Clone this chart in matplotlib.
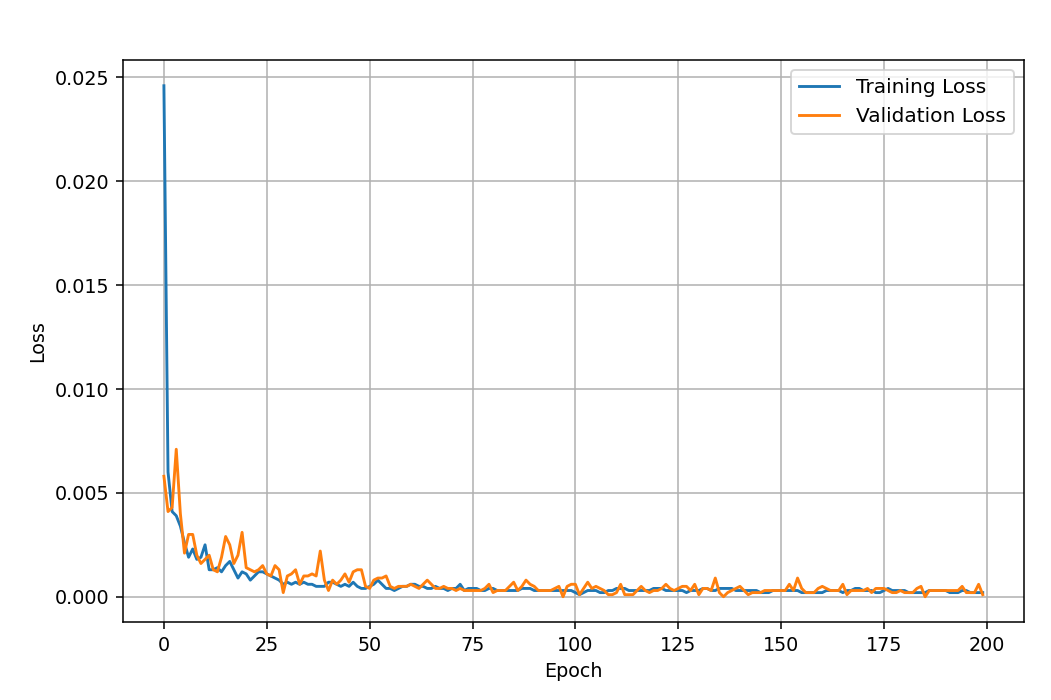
import numpy as np
import matplotlib
matplotlib.use("Agg")
import matplotlib.pyplot as plt

# loss values per epoch
train_loss = [
    0.0246, 0.0060, 0.0041, 0.0039, 0.0034, 0.0026, 0.0019, 0.0023, 0.0018, 0.0019,
    0.0025, 0.0013, 0.0013, 0.0014, 0.0012, 0.0015, 0.0017, 0.0013, 0.0009, 0.0012,
    0.0011, 0.0008, 0.0010, 0.0012, 0.0012, 0.0011, 0.0010, 0.0009, 0.0008, 0.0006,
    0.0007, 0.0006, 0.0007, 0.0006, 0.0007, 0.0006, 0.0006, 0.0005, 0.0005, 0.0005,
    0.0007, 0.0007, 0.0006, 0.0005, 0.0006, 0.0005, 0.0007, 0.0005, 0.0004, 0.0004,
    0.0005, 0.0006, 0.0008, 0.0006, 0.0004, 0.0004, 0.0003, 0.0004, 0.0005, 0.0005,
    0.0006, 0.0006, 0.0005, 0.0005, 0.0004, 0.0004, 0.0005, 0.0004, 0.0004, 0.0003,
    0.0004, 0.0004, 0.0006, 0.0003, 0.0004, 0.0004, 0.0004, 0.0003, 0.0003, 0.0004,
    0.0004, 0.0003, 0.0003, 0.0003, 0.0003, 0.0003, 0.0003, 0.0004, 0.0004, 0.0004,
    0.0003, 0.0003, 0.0003, 0.0003, 0.0003, 0.0003, 0.0003, 0.0003, 0.0003, 0.0003,
    0.0002, 0.0001, 0.0002, 0.0003, 0.0003, 0.0003, 0.0002, 0.0002, 0.0003, 0.0003,
    0.0004, 0.0004, 0.0004, 0.0003, 0.0003, 0.0003, 0.0003, 0.0003, 0.0003, 0.0004,
    0.0004, 0.0004, 0.0003, 0.0003, 0.0003, 0.0003, 0.0003, 0.0002, 0.0003, 0.0003,
    0.0003, 0.0004, 0.0004, 0.0003, 0.0003, 0.0004, 0.0004, 0.0004, 0.0004, 0.0003,
    0.0003, 0.0003, 0.0003, 0.0003, 0.0003, 0.0002, 0.0002, 0.0002, 0.0003, 0.0003,
    0.0003, 0.0003, 0.0003, 0.0003, 0.0003, 0.0002, 0.0002, 0.0002, 0.0002, 0.0002,
    0.0002, 0.0003, 0.0003, 0.0003, 0.0003, 0.0002, 0.0003, 0.0003, 0.0004, 0.0004,
    0.0003, 0.0003, 0.0003, 0.0002, 0.0002, 0.0003, 0.0004, 0.0003, 0.0003, 0.0003,
    0.0003, 0.0002, 0.0002, 0.0002, 0.0002, 0.0002, 0.0003, 0.0003, 0.0003, 0.0003,
    0.0003, 0.0002, 0.0002, 0.0002, 0.0003, 0.0003, 0.0002, 0.0002, 0.0002, 0.0002,
]

val_loss = [
    0.0058, 0.0041, 0.0043, 0.0071, 0.0040, 0.0021, 0.0030, 0.0030, 0.0020, 0.0016,
    0.0018, 0.0020, 0.0013, 0.0012, 0.0019, 0.0029, 0.0025, 0.0016, 0.0020, 0.0031,
    0.0014, 0.0013, 0.0012, 0.0013, 0.0015, 0.0011, 0.0010, 0.0015, 0.0013, 0.0002,
    0.0010, 0.0011, 0.0013, 0.0006, 0.0010, 0.0010, 0.0011, 0.0010, 0.0022, 0.0008,
    0.0003, 0.0008, 0.0006, 0.0008, 0.0011, 0.0007, 0.0012, 0.0013, 0.0013, 0.0005,
    0.0004, 0.0008, 0.0009, 0.0009, 0.0010, 0.0005, 0.0004, 0.0005, 0.0005, 0.0005,
    0.0006, 0.0005, 0.0004, 0.0006, 0.0008, 0.0006, 0.0004, 0.0004, 0.0005, 0.0004,
    0.0004, 0.0003, 0.0004, 0.0003, 0.0003, 0.0003, 0.0003, 0.0003, 0.0004, 0.0006,
    0.0002, 0.0003, 0.0003, 0.0003, 0.0005, 0.0007, 0.0003, 0.0005, 0.0008, 0.0006,
    0.0005, 0.0003, 0.0003, 0.0003, 0.0003, 0.0004, 0.0005, 0.0000, 0.0005, 0.0006,
    0.0006, 0.0001, 0.0004, 0.0007, 0.0004, 0.0005, 0.0004, 0.0003, 0.0001, 0.0001,
    0.0002, 0.0006, 0.0001, 0.0001, 0.0001, 0.0003, 0.0005, 0.0003, 0.0002, 0.0003,
    0.0003, 0.0004, 0.0006, 0.0004, 0.0003, 0.0004, 0.0005, 0.0005, 0.0003, 0.0006,
    0.0001, 0.0004, 0.0004, 0.0003, 0.0009, 0.0002, 0.0000, 0.0002, 0.0003, 0.0004,
    0.0005, 0.0003, 0.0001, 0.0002, 0.0002, 0.0002, 0.0003, 0.0003, 0.0003, 0.0003,
    0.0003, 0.0003, 0.0006, 0.0003, 0.0009, 0.0004, 0.0002, 0.0002, 0.0002, 0.0004,
    0.0005, 0.0004, 0.0003, 0.0003, 0.0003, 0.0006, 0.0001, 0.0003, 0.0003, 0.0003,
    0.0003, 0.0004, 0.0002, 0.0004, 0.0004, 0.0004, 0.0003, 0.0002, 0.0002, 0.0003,
    0.0002, 0.0002, 0.0002, 0.0004, 0.0005, 0.0000, 0.0003, 0.0003, 0.0003, 0.0003,
    0.0003, 0.0003, 0.0003, 0.0003, 0.0005, 0.0002, 0.0002, 0.0002, 0.0006, 0.0001,
]

epochs = np.arange(len(train_loss))  # 0..199

fig = plt.figure(figsize=(1051 / 138, 700 / 138), dpi=138)
ax = fig.add_subplot(111)
fig.subplots_adjust(left=0.117, right=0.974, bottom=0.111, top=0.914)

ax.plot(epochs, train_loss, label="Training Loss")
ax.plot(epochs, val_loss, label="Validation Loss")

ax.set_xlabel("Epoch")
ax.set_ylabel("Loss")
ax.legend(loc="upper right", fontsize=10.5)
ax.grid(True)

fig.savefig("out.png", dpi=138)
